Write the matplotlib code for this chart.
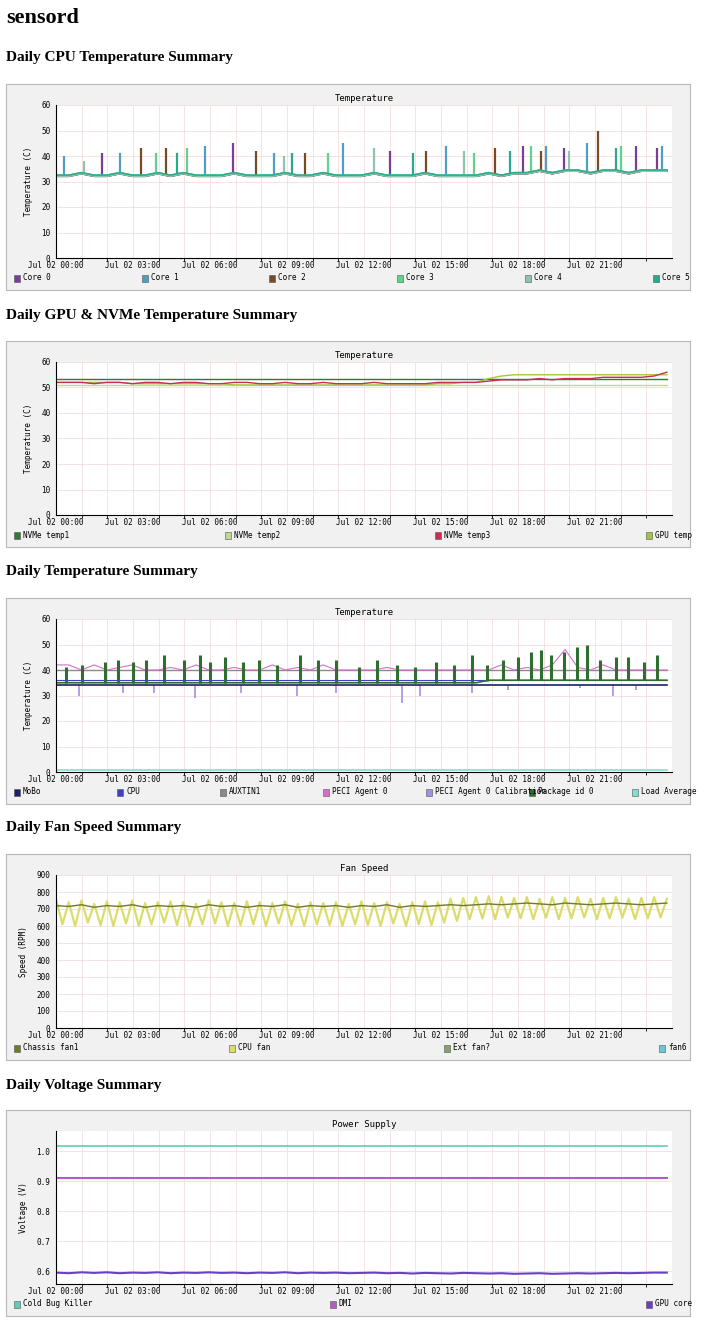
import numpy as np
import matplotlib
matplotlib.use("Agg")
import matplotlib.pyplot as plt

# ---- data (hours since Jul 02 00:00) ----
hours = np.arange(0, 24.01, 0.5)  # 49 samples
tick_hours = [0, 3, 6, 9, 12, 15, 18, 21]
tick_labels = ["Jul 02 %02d:00" % h for h in tick_hours]

# CPU cores: baseline
core_base = [32, 32, 33, 32, 32, 33, 32, 32, 33, 32, 33, 32, 32, 32, 33, 32, 32, 32,
             33, 32, 32, 33, 32, 32, 32, 33, 32, 32, 32, 33, 32, 32, 32, 32, 33, 32,
             33, 33, 34, 33, 34, 34, 33, 34, 34, 33, 34, 34, 34]
core_spikes = {
    "Core 0": [(1.8, 41), (6.9, 45), (13.0, 42), (18.2, 44), (19.8, 43), (22.6, 44), (23.4, 43)],
    "Core 1": [(0.3, 40), (2.5, 41), (5.8, 44), (8.5, 41), (11.2, 45), (15.2, 44), (19.1, 44), (20.7, 45), (23.6, 44)],
    "Core 2": [(3.3, 43), (4.3, 43), (7.8, 42), (9.7, 41), (14.4, 42), (17.1, 43), (18.9, 42), (21.1, 50)],
    "Core 3": [(3.9, 41), (5.1, 43), (10.6, 41), (16.3, 41), (18.5, 44), (22.0, 44)],
    "Core 4": [(1.1, 38), (8.9, 40), (12.4, 43), (15.9, 42), (20.0, 42)],
    "Core 5": [(4.7, 41), (9.2, 41), (13.9, 41), (17.7, 42), (21.8, 43)],
}
core_colors = ["#7a3d9a", "#4f9ec4", "#7a4b22", "#5fd38c", "#8cc7ad", "#2aa98f"]

# GPU & NVMe
nvme1 = [53.5] * 49
nvme2 = [51.0] * 49
nvme3 = [52, 52, 52, 51.5, 52, 52, 51.5, 52, 52, 51.5, 52, 52, 51.5, 51.5, 52, 52, 51.5, 51.5,
         52, 51.5, 51.5, 52, 51.5, 51.5, 51.5, 52, 51.5, 51.5, 51.5, 51.5, 52, 52, 52, 52,
         52.5, 53, 53, 53, 53.5, 53, 53.5, 53.5, 53.5, 54, 54, 54, 54, 54.5, 56]
gpu = [52, 52, 52, 52, 52, 52, 51.5, 51.5, 51.5, 51.5, 51.5, 51.5, 51.5, 51.5, 51, 51, 51, 51,
       51, 51, 51, 51, 51, 51, 51, 51, 51, 51, 51, 51, 51.5, 51.5, 52, 52, 53.5, 54.5,
       55, 55, 55, 55, 55, 55, 55, 55, 55, 55, 55, 55, 55]
gpu_colors = ["#2f7a32", "#c2d69b", "#cc2c55", "#a2c83a"]

# Temperature summary
mobo = [34] * 49
cpu_t = [36] * 49
auxtin1 = [40] * 49
peci0 = [42, 42, 40, 42, 40, 41, 42, 40, 40, 41, 40, 42, 40, 40, 41, 40, 40, 42, 40, 41,
         40, 42, 40, 40, 40, 40, 41, 40, 40, 40, 40, 40, 40, 40, 40, 42, 40, 41, 40, 42,
         48, 41, 40, 42, 40, 40, 40, 40, 40]
calib_dips = [(0.9, 30), (2.6, 31), (3.8, 31), (5.4, 29), (7.2, 31), (9.4, 30), (10.9, 31),
              (13.5, 27), (14.2, 30), (16.2, 31), (17.6, 32), (20.4, 33), (21.7, 30), (22.6, 32)]
pkg_base = [35] * 34 + [36] * 15
pkg_spikes = [(0.4, 41), (1.0, 42), (1.9, 43), (2.4, 44), (3.0, 43), (3.5, 44), (4.2, 46),
              (5.0, 44), (5.6, 46), (6.0, 43), (6.6, 45), (7.3, 43), (7.9, 44), (8.6, 42),
              (9.5, 46), (10.2, 44), (10.9, 44), (11.8, 41), (12.5, 44), (13.3, 42), (14.0, 41),
              (14.8, 43), (15.5, 42), (16.2, 46), (16.8, 42), (17.4, 44), (18.0, 45),
              (18.5, 47), (18.9, 48), (19.3, 46), (19.8, 47), (20.3, 49), (20.7, 50),
              (21.2, 44), (21.8, 45), (22.3, 45), (22.9, 43), (23.4, 46)]
load_avg = [0.6] * 49
temp_colors = ["#1f1f66", "#3f3fc8", "#8a8a8a", "#d86fd0", "#9c94e6", "#2f6e2f", "#7fe0cf"]

# Fan speed
chassis = [720, 715, 725, 710, 720, 715, 725, 710, 720, 715, 720, 710, 725, 715, 720, 710,
           720, 715, 725, 710, 720, 715, 720, 710, 720, 715, 725, 710, 720, 715, 720, 725,
           720, 725, 730, 725, 730, 735, 730, 725, 735, 730, 725, 730, 735, 730, 725, 730, 735]
cpu_fan_high = [760, 740, 750, 730, 745, 740, 750, 735, 740, 745, 740, 730, 750, 740, 735, 745,
                740, 735, 745, 730, 740, 735, 740, 730, 745, 735, 740, 730, 740, 745, 740, 760,
                765, 770, 775, 770, 765, 770, 760, 770, 765, 770, 760, 765, 770, 760, 765, 770, 760]
cpu_fan_low = [610, 600, 620, 605, 600, 615, 600, 610, 620, 605, 600, 610, 615, 600, 605, 610,
               600, 615, 605, 600, 610, 605, 600, 610, 605, 600, 615, 600, 610, 605, 620, 630,
               640, 645, 640, 650, 645, 640, 650, 640, 645, 650, 640, 645, 650, 640, 645, 650, 640]
fan_colors = ["#6f7a2a", "#dcdc6c", "#8aa06e", "#6cc6d6"]

# Voltage
cold_bug = [1.016] * 49
dmi = [0.91] * 49
gpu_core = [0.595, 0.593, 0.596, 0.594, 0.596, 0.593, 0.595, 0.594, 0.596, 0.593, 0.595, 0.594,
            0.596, 0.594, 0.595, 0.593, 0.595, 0.594, 0.596, 0.593, 0.595, 0.594, 0.595, 0.593,
            0.594, 0.595, 0.593, 0.594, 0.592, 0.594, 0.593, 0.592, 0.594, 0.593, 0.592, 0.593,
            0.591, 0.592, 0.593, 0.591, 0.592, 0.593, 0.592, 0.593, 0.594, 0.593, 0.594, 0.595, 0.595]
volt_colors = ["#5ccfb8", "#b15cc8", "#6a3fc8"]

W, H = 720, 1332
fig = plt.figure(figsize=(W / 100, H / 100), dpi=100)
mono = "DejaVu Sans Mono"


def px(x, y, w, h):
    return [x / W, 1 - (y + h) / H, w / W, h / H]


def panel(top, title, ylabel, ylim, yticks, names, colors):
    frame = fig.add_axes(px(6, top, 684, 206))
    frame.set_facecolor("#f1f1f1")
    frame.set_xticks([]); frame.set_yticks([])
    for s in frame.spines.values():
        s.set_color("#b8b8b8")
    ax = fig.add_axes(px(56, top + 21, 616, 153))
    ax.set_facecolor("white")
    ax.set_xlim(0, 24)
    ax.set_ylim(*ylim)
    ax.set_yticks(yticks)
    ax.set_xticks(tick_hours)
    ax.set_xticklabels(tick_labels)
    ax.set_xticks(np.arange(0, 24, 1), minor=True)
    ax.tick_params(labelsize=5.5, length=0, pad=2)
    ax.tick_params(axis="y", pad=4)
    for t in ax.get_xticklabels() + ax.get_yticklabels():
        t.set_family(mono)
    ax.grid(True, which="both", color="#f2d8d8", lw=0.5)
    for s in ["top", "right"]:
        ax.spines[s].set_visible(False)
    ax.set_title(title, fontsize=6.5, family=mono, pad=3)
    ax.set_ylabel(ylabel, fontsize=5.5, family=mono, labelpad=6)
    # legend row: first at left, last right-aligned, rest evenly between
    n = len(names)
    cw = 3.4  # approx char width px
    x_last = 682 - 9 - cw * len(names[-1])
    ly = top + 194
    for i, (nm, c) in enumerate(zip(names, colors)):
        xp = 14 + i * (x_last - 14) / (n - 1)
        fig.patches.append(plt.Rectangle((xp / W, 1 - (ly + 3.5) / H), 6 / W, 7 / H,
                                         transform=fig.transFigure, facecolor=c,
                                         edgecolor="#555555", lw=0.4))
        fig.text((xp + 9) / W, 1 - ly / H, nm, fontsize=5.5, family=mono, va="center")
    return ax


def header(y, text, size=11):
    fig.text(6 / W, 1 - y / H, text, fontsize=size, family="Liberation Serif",
             weight="bold", va="center")


header(18, "sensord", 16)
header(58, "Daily CPU Temperature Summary")
header(315, "Daily GPU & NVMe Temperature Summary")
header(572, "Daily Temperature Summary")
header(828, "Daily Fan Speed Summary")
header(1085, "Daily Voltage Summary")

t_end = hours * (23.8 / 24)

# panel 1
names1 = list(core_spikes.keys())
ax = panel(84, "Temperature", "Temperature (C)", (0, 60), range(0, 61, 10), names1, core_colors)
for i, (nm, c) in enumerate(zip(names1, core_colors)):
    base = np.array(core_base) + (0.5 if i % 2 else 0)
    ax.plot(t_end, base, color=c, lw=1.0)
    xs = [p[0] for p in core_spikes[nm]]
    ax.vlines(xs, np.interp(xs, t_end, base), [p[1] for p in core_spikes[nm]], color=c, lw=1.6)

# panel 2
ax = panel(341, "Temperature", "Temperature (C)", (0, 60), range(0, 61, 10),
           ["NVMe temp1", "NVMe temp2", "NVMe temp3", "GPU temp"], gpu_colors)
for ys, c in zip([nvme1, nvme2, gpu, nvme3], [gpu_colors[0], gpu_colors[1], gpu_colors[3], gpu_colors[2]]):
    ax.plot(t_end, ys, color=c, lw=1.0)

# panel 3
ax = panel(598, "Temperature", "Temperature (C)", (0, 60), range(0, 61, 10),
           ["MoBo", "CPU", "AUXTIN1", "PECI Agent 0", "PECI Agent 0 Calibration",
            "Package id 0", "Load Average"], temp_colors)
ax.plot(t_end, auxtin1, color=temp_colors[2], lw=1.0)
ax.plot(t_end, peci0, color=temp_colors[3], lw=0.8)
ax.vlines([p[0] for p in calib_dips], [p[1] for p in calib_dips], 34, color=temp_colors[4], lw=1.2)
ax.plot(t_end, mobo, color=temp_colors[0], lw=1.2)
ax.plot(t_end, cpu_t, color=temp_colors[1], lw=0.8)
ax.plot(t_end, pkg_base, color=temp_colors[5], lw=1.2)
xs = [p[0] for p in pkg_spikes]
ax.vlines(xs, np.interp(xs, t_end, pkg_base), [p[1] for p in pkg_spikes], color=temp_colors[5], lw=2.2)
ax.plot(t_end, load_avg, color=temp_colors[6], lw=1.2)

# panel 4
ax = panel(854, "Fan Speed", "Speed (RPM)", (0, 900), range(0, 901, 100),
           ["Chassis fan1", "CPU fan", "Ext fan?", "fan6"], fan_colors)
zig_t = np.ravel(np.column_stack([t_end, t_end + 0.25]))[:-1]
zig_y = np.ravel(np.column_stack([cpu_fan_high, cpu_fan_low]))[:-1]
ax.plot(zig_t, zig_y, color=fan_colors[1], lw=1.6)
ax.plot(t_end, chassis, color=fan_colors[0], lw=1.0)

# panel 5
ax = panel(1110, "Power Supply", "Voltage (V)", (0.557, 1.067), [0.6, 0.7, 0.8, 0.9, 1.0],
           ["Cold Bug Killer", "DMI", "GPU core"], volt_colors)
ax.set_yticklabels(["0.6", "0.7", "0.8", "0.9", "1.0"], family=mono)
ax.plot(t_end, cold_bug, color=volt_colors[0], lw=1.2)
ax.plot(t_end, dmi, color=volt_colors[1], lw=1.5)
ax.plot(t_end, gpu_core, color=volt_colors[2], lw=1.5)

fig.savefig("out.png", dpi=100)
